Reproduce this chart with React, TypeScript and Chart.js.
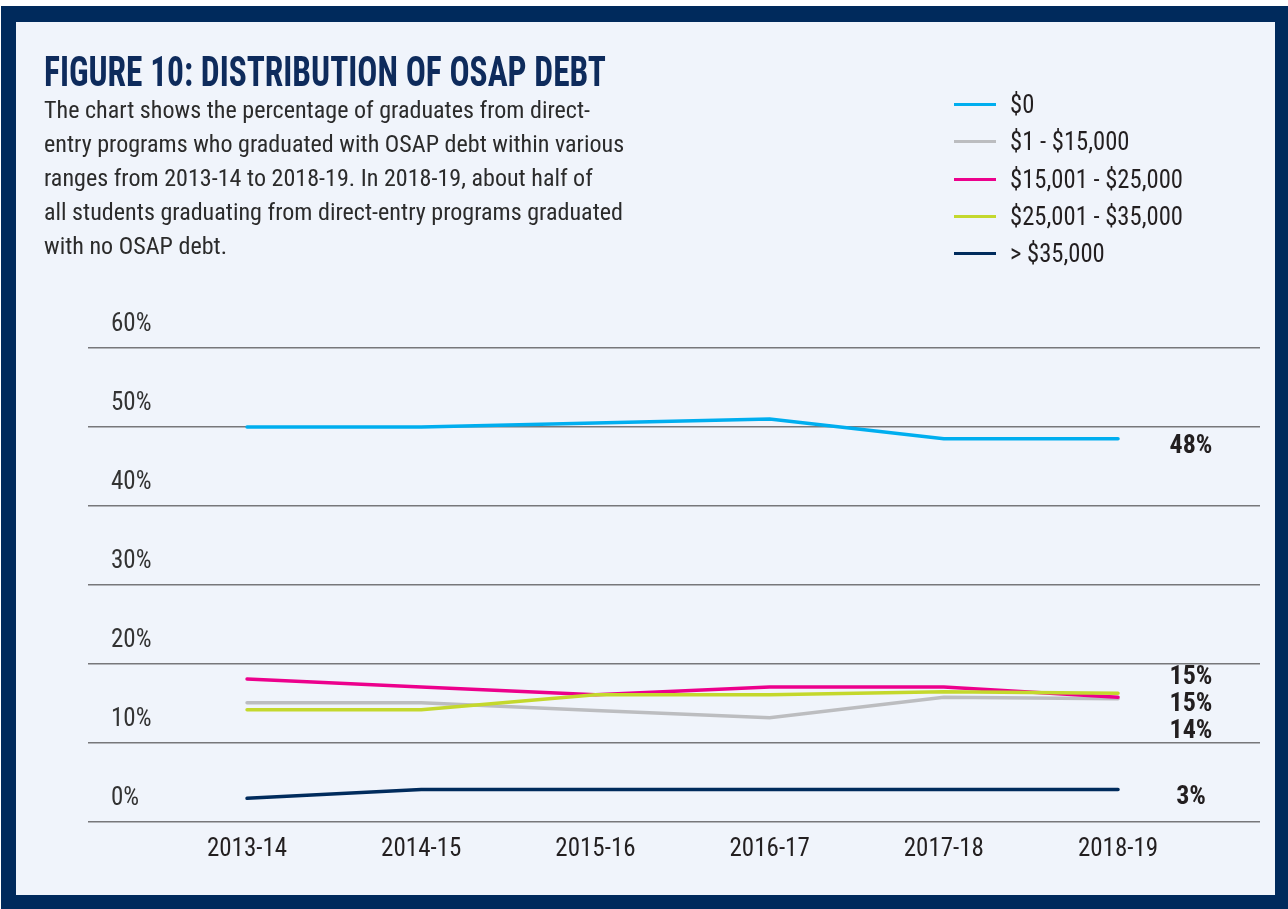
import React, { useEffect, useLayoutEffect, useRef } from "react";
import { Chart, registerables } from "chart.js";

Chart.register(...registerables);

// ---- data ----
const years = ["2013-14", "2014-15", "2015-16", "2016-17", "2017-18", "2018-19"];
const seriesNames = ["$0", "$1 - $15,000", "$15,001 - $25,000", "$25,001 - $35,000", "> $35,000"];
const seriesColors = ["#00aeef", "#bcbdc0", "#ec008c", "#c4d82d", "#002b5c"];
const debtZero = [50.0, 50.0, 50.5, 51.0, 48.5, 48.5];
const debtUpTo15k = [15.1, 15.1, 14.1, 13.2, 15.8, 15.6];
const debt15kTo25k = [18.1, 17.1, 16.1, 17.1, 17.1, 15.8];
const debt25kTo35k = [14.2, 14.2, 16.1, 16.1, 16.5, 16.3];
const debtOver35k = [3.0, 4.1, 4.1, 4.1, 4.1, 4.1];
const endLabels = ["48%", "14%", "15%", "15%", "3%"];
const yTicks = [0, 10, 20, 30, 40, 50, 60];

const seriesValues = [debtZero, debtUpTo15k, debt15kTo25k, debt25kTo35k, debtOver35k];
const drawOrder = [0, 3, 2, 1, 4];

const FONT = '"Roboto Condensed", "Open Sans", sans-serif';
const TEXT = "#231f20";
const NAVY = "#002a5c";
const PANEL = "#f0f4fb";

const endLabelPlugin = {
  id: "endLabels",
  afterDatasetsDraw(chart: any) {
    const { ctx, scales } = chart;
    const xs = scales.x;
    const ys = scales.y;
    const items = chart.data.datasets.map((ds: any, i: number) => {
      const last = ds.data.length - 1;
      const y0 = ys.getPixelForValue(ds.data[last].y) + 8;
      return { text: endLabels[i], x: xs.getPixelForValue(last) + 73, y0, y: y0 };
    });
    items.sort((a: any, b: any) => a.y0 - b.y0);
    const gap = 27;
    // cluster overlapping labels and spread them around their mean
    const clusters: any[][] = items.map((it: any) => [it]);
    const place = (c: any[]) => {
      const mean = c.reduce((s, it) => s + it.y0, 0) / c.length;
      c.forEach((it, k) => (it.y = mean + (k - (c.length - 1) / 2) * gap));
    };
    clusters.forEach(place);
    let merged = true;
    while (merged) {
      merged = false;
      for (let k = 0; k < clusters.length - 1; k++) {
        const a = clusters[k];
        const b = clusters[k + 1];
        if (b[0].y - a[a.length - 1].y < gap) {
          clusters.splice(k, 2, a.concat(b));
          place(clusters[k]);
          merged = true;
          break;
        }
      }
    }
    ctx.save();
    ctx.font = `bold 26px ${FONT}`;
    ctx.fillStyle = TEXT;
    ctx.textAlign = "center";
    ctx.textBaseline = "middle";
    items.forEach((it: any) => ctx.fillText(it.text, it.x, it.y));
    ctx.restore();
  },
};

function fitWidth(el: HTMLElement | null, target: number) {
  if (!el) return;
  el.style.transform = "none";
  const w = el.getBoundingClientRect().width;
  if (w > 0) el.style.transform = `scaleX(${target / w})`;
}

export default function App() {
  const canvasRef = useRef<HTMLCanvasElement>(null);
  const titleRef = useRef<HTMLDivElement>(null);
  const descRef = useRef<HTMLDivElement>(null);
  const descLongRef = useRef<HTMLSpanElement>(null);
  const legendLongRef = useRef<HTMLSpanElement>(null);
  const legendRef = useRef<HTMLDivElement>(null);

  useLayoutEffect(() => {
    fitWidth(titleRef.current, 562);
    if (descLongRef.current && descRef.current) {
      const w = descLongRef.current.getBoundingClientRect().width;
      descRef.current.style.transform = `scaleX(${579 / w})`;
    }
    if (legendLongRef.current && legendRef.current) {
      const w = legendLongRef.current.getBoundingClientRect().width;
      legendRef.current.querySelectorAll<HTMLElement>(".lt").forEach((e) => {
        e.style.transform = `scaleX(${173 / w})`;
      });
    }
  }, []);

  useEffect(() => {
    if (!canvasRef.current) return;
    const chart = new Chart(canvasRef.current, {
      type: "line",
      data: {
        datasets: seriesNames.map((name, i) => ({
          label: name,
          data: seriesValues[i].map((v, k) => ({ x: k, y: v })),
          borderColor: seriesColors[i],
          backgroundColor: seriesColors[i],
          borderWidth: 3.5,
          borderCapStyle: "round",
          borderJoinStyle: "miter",
          pointRadius: 0,
          tension: 0,
          order: drawOrder[i],
        })),
      },
      options: {
        animation: false,
        responsive: false,
        maintainAspectRatio: false,
        layout: { padding: { left: 88, right: 28, top: 348, bottom: 47 } },
        plugins: { legend: { display: false }, tooltip: { enabled: false }, title: { display: false } },
        scales: {
          x: {
            type: "linear",
            min: -0.913,
            max: 5.815,
            grid: { display: false, drawTicks: false },
            border: { display: false },
            afterBuildTicks: (s: any) => {
              s.ticks = years.map((_, i) => ({ value: i }));
            },
            afterFit: (s: any) => {
              s.height = 40;
            },
            ticks: {
              autoSkip: false,
              maxRotation: 0,
              padding: 13,
              color: TEXT,
              font: { family: FONT, size: 25 },
              callback: (v: any) => years[v as number],
            },
          },
          y: {
            min: 0,
            max: 60,
            afterBuildTicks: (s: any) => {
              s.ticks = yTicks.map((v) => ({ value: v }));
            },
            afterFit: (s: any) => {
              s.width = 0;
            },
            grid: { color: "#77777a", lineWidth: 1.5, drawTicks: false },
            border: { display: false },
            ticks: {
              mirror: true,
              padding: 23,
              labelOffset: -23,
              color: "#333333",
              font: { family: FONT, size: 25 },
              callback: (v: any) => `${v}%`,
            },
          },
        },
      },
      plugins: [endLabelPlugin],
    } as any);
    return () => chart.destroy();
  }, []);

  const descLines = [
    "The chart shows the percentage of graduates from direct-",
    "entry programs who graduated with OSAP debt within various",
    "ranges from 2013-14 to 2018-19. In 2018-19, about half of",
    "all students graduating from direct-entry programs graduated",
    "with no OSAP debt.",
  ];

  return (
    <div style={{ position: "absolute", left: 0, top: 0, width: 1288, height: 909, background: "#ffffff", overflow: "hidden", fontFamily: FONT }}>
      <div style={{ position: "absolute", left: 1, top: 6, width: 1287, height: 903, background: NAVY }} />
      <div style={{ position: "absolute", left: 16, top: 22, width: 1259, height: 873, background: PANEL }} />
      <canvas ref={canvasRef} width={1288} height={909} style={{ position: "absolute", left: 0, top: 0, width: 1288, height: 909 }} />
      <div
        ref={titleRef}
        style={{ position: "absolute", left: 44, top: 51, fontSize: 42, lineHeight: "42px", fontWeight: 700, color: "#0e2b5c", whiteSpace: "nowrap", transformOrigin: "0 0" }}
      >
        FIGURE 10: DISTRIBUTION OF OSAP DEBT
      </div>
      <div ref={descRef} style={{ position: "absolute", left: 44, top: 93, fontSize: 24.5, lineHeight: "34px", color: "#2b2b2b", whiteSpace: "nowrap", transformOrigin: "0 0" }}>
        {descLines.map((l, i) => (
          <div key={i}>
            <span ref={i === 3 ? descLongRef : undefined}>{l}</span>
          </div>
        ))}
      </div>
      <div ref={legendRef} style={{ position: "absolute", left: 954, top: 86 }}>
        {seriesNames.map((n, i) => (
          <div key={n} style={{ position: "relative", height: 37.3, display: "flex", alignItems: "center" }}>
            <div style={{ width: 42, height: 3, background: seriesColors[i] }} />
            <span
              className="lt"
              ref={i === 3 ? legendLongRef : undefined}
              style={{ marginLeft: 14, fontSize: 25, color: TEXT, whiteSpace: "nowrap", transformOrigin: "0 50%", display: "inline-block" }}
            >
              {n}
            </span>
          </div>
        ))}
      </div>
    </div>
  );
}
